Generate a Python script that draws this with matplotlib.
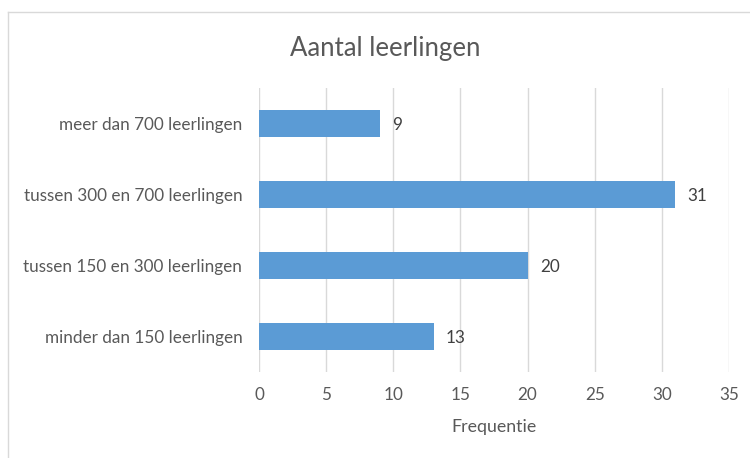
import matplotlib

matplotlib.use("Agg")
import matplotlib.pyplot as plt
from matplotlib.lines import Line2D

plt.rcParams["font.family"] = ["Lato", "DejaVu Sans"]

# Data (bottom to top, as drawn)
categories = [
    "minder dan 150 leerlingen",
    "tussen 150 en 300 leerlingen",
    "tussen 300 en 700 leerlingen",
    "meer dan 700 leerlingen",
]
counts = [13, 20, 31, 9]
xticks = [0, 5, 10, 15, 20, 25, 30, 35]

BAR = "#5B9BD5"
TEXT = "#595959"
GRID = "#D9D9D9"
FS = 12.3

fig = plt.figure(figsize=(7.5, 4.58), dpi=100)
ax = fig.add_axes([0.3453, 0.1878, 0.6267, 0.6201])

y = range(len(categories))
ax.barh(y, counts, height=0.37, color=BAR, zorder=3)
for yi, v in zip(y, counts):
    ax.annotate(str(v), (v, yi), xytext=(9, -1), textcoords="offset points",
                va="center", ha="left", fontsize=FS, color="#404040")

ax.set_xlim(0, 35)
ax.set_ylim(-0.5, len(categories) - 0.5)
ax.set_xticks(xticks)
ax.set_yticks(list(y))
ax.set_yticklabels(categories)
ax.tick_params(axis="both", length=0, labelsize=FS, labelcolor=TEXT)
ax.tick_params(axis="y", pad=12)
ax.tick_params(axis="x", pad=11)
ax.grid(True, axis="x", color=GRID, linewidth=1, zorder=0)
for s in ax.spines.values():
    s.set_visible(False)
ax.set_xlabel("Frequentie", fontsize=12.8, color=TEXT, labelpad=11)

fig.text(0.513, 0.895, "Aantal leerlingen", ha="center", va="center",
         fontsize=18.5, color=TEXT)

# chart-area border (only left and top visible in the crop)
fig.add_artist(Line2D([0.0107, 0.0107], [0.0, 0.974], color="#D9D9D9", linewidth=1))
fig.add_artist(Line2D([0.0107, 1.0], [0.974, 0.974], color="#D9D9D9", linewidth=1))

fig.savefig("out.png", dpi=100)
